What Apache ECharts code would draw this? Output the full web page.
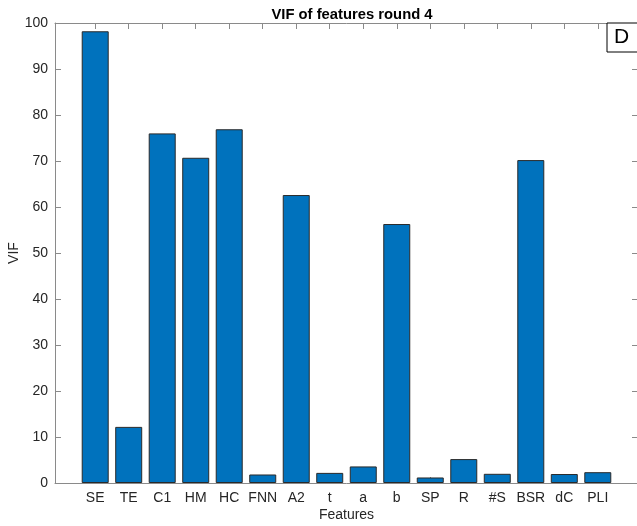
<!DOCTYPE html>
<html>
<head>
<meta charset="utf-8">
<script src="https://cdn.jsdelivr.net/npm/echarts@6/dist/echarts.min.js"></script>
<style>
  html, body { margin: 0; padding: 0; background: #fff; }
  #chart { width: 637px; height: 526px; }
</style>
</head>
<body>
<div id="chart"></div>
<script>
// Feature names along the x axis
const categories = ['SE', 'TE', 'C1', 'HM', 'HC', 'FNN', 'A2', 't', 'a', 'b', 'SP', 'R', '#S', 'BSR', 'dC', 'PLI'];
// Variance inflation factor of each feature
const vifValues = [98.2, 12.2, 76.0, 70.7, 76.9, 1.85, 62.6, 2.2, 3.6, 56.3, 1.2, 5.2, 2.0, 70.2, 1.95, 2.35];
// Y axis range and step
const yTicks = { min: 0, max: 100, step: 10 };

const positions = categories.map((_, i) => i + 1);
const barData = positions.map((p, i) => [p, vifValues[i]]);

const font = 'Liberation Sans, Arial, Helvetica, sans-serif';
const axisGray = '#8a8a8a';
const textColor = '#262626';

const chart = echarts.init(document.getElementById('chart'), null, { renderer: 'canvas' });

chart.setOption({
  animation: false,
  backgroundColor: '#ffffff',
  title: {
    text: 'VIF of features round 4',
    left: 347, top: 2, textAlign: 'center',
    textStyle: { fontFamily: font, fontSize: 14.8, fontWeight: 'bold', color: '#000' }
  },
  grid: { left: 55, right: -1, top: 23, bottom: 43, containLabel: false, outerBoundsMode: 'none' },
  xAxis: [
    {
      type: 'value', position: 'bottom', min: -0.2, max: 17.2,
      name: 'Features', nameLocation: 'middle', nameGap: 25, nameMoveOverlap: false,
      nameTextStyle: { fontFamily: font, fontSize: 14, color: textColor },
      axisLine: { show: true, onZero: false, lineStyle: { color: axisGray, width: 1 } },
      axisTick: { show: true, inside: true, length: 6, customValues: positions, lineStyle: { color: axisGray } },
      axisLabel: {
        customValues: positions, margin: 8,
        fontFamily: font, fontSize: 14, color: textColor,
        formatter: v => categories[Math.round(v) - 1] || ''
      },
      splitLine: { show: false }
    },
    {
      type: 'value', position: 'top', min: -0.2, max: 17.2,
      axisLine: { show: true, onZero: false, lineStyle: { color: axisGray, width: 1 } },
      axisTick: { show: true, inside: true, length: 6, customValues: positions, lineStyle: { color: axisGray } },
      axisLabel: { show: false },
      splitLine: { show: false }
    }
  ],
  yAxis: [
    {
      type: 'value', position: 'left', min: yTicks.min, max: yTicks.max, interval: yTicks.step,
      name: 'VIF', nameLocation: 'middle', nameGap: 34, nameRotate: 90, nameMoveOverlap: false,
      nameTextStyle: { fontFamily: font, fontSize: 14, color: textColor },
      axisLine: { show: true, onZero: false, lineStyle: { color: axisGray, width: 1 } },
      axisTick: { show: true, inside: true, length: 6, lineStyle: { color: axisGray } },
      axisLabel: { margin: 7, fontFamily: font, fontSize: 14, color: textColor },
      splitLine: { show: false }
    },
    {
      type: 'value', position: 'right', min: yTicks.min, max: yTicks.max, interval: yTicks.step,
      axisLine: { show: true, onZero: false, lineStyle: { color: axisGray, width: 1 } },
      axisTick: { show: true, inside: true, length: 6, lineStyle: { color: axisGray } },
      axisLabel: { show: false },
      splitLine: { show: false }
    }
  ],
  series: [
    {
      type: 'bar',
      xAxisIndex: 0, yAxisIndex: 0,
      data: barData,
      barWidth: 27,
      itemStyle: { color: '#0072BD', borderColor: '#2a2a2a', borderWidth: 1 }
    }
  ],
  graphic: [
    {
      type: 'rect', left: 606.5, top: 22.5, z: 100,
      shape: { width: 40, height: 29 },
      style: { fill: '#fff', stroke: '#000', lineWidth: 1 }
    },
    {
      type: 'text', left: 614, top: 27, z: 101,
      style: { text: 'D', font: '21px ' + font, fill: '#000' }
    }
  ]
});
</script>
</body>
</html>
